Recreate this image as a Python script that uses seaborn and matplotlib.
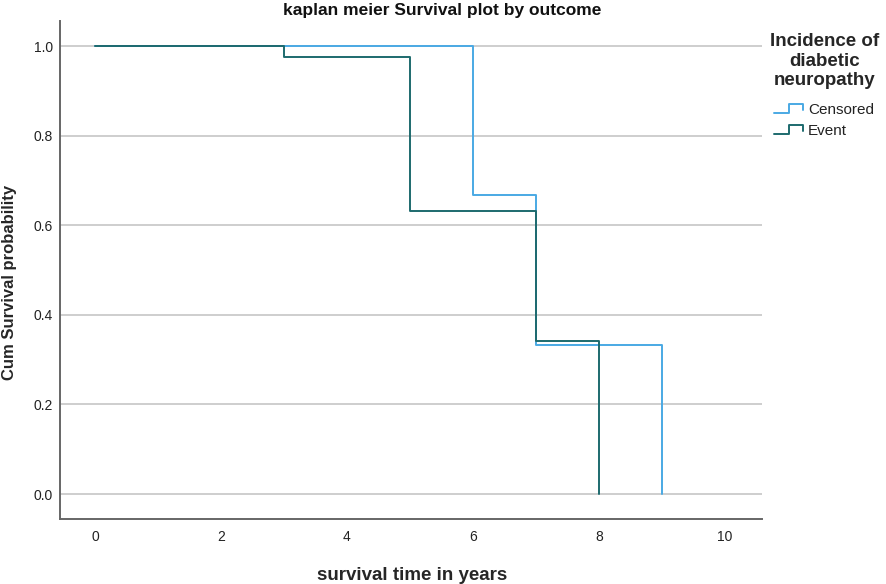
import matplotlib
matplotlib.use("Agg")
import matplotlib.pyplot as plt
from matplotlib.legend_handler import HandlerBase
from matplotlib.lines import Line2D
import pandas as pd
import seaborn as sns

# survival curves (steps-post)
groups = ["Censored", "Event"]
censored_time = [0, 6, 7, 9]
censored_surv = [1.0, 0.667, 0.333, 0.0]
event_time = [0, 3, 5, 7, 8]
event_surv = [1.0, 0.975, 0.632, 0.342, 0.0]
colors = {"Censored": "#4aa9e4", "Event": "#1d6a6e"}

x_ticks = [0, 2, 4, 6, 8, 10]
y_ticks = [0.0, 0.2, 0.4, 0.6, 0.8, 1.0]

df = pd.concat([
    pd.DataFrame({"time": censored_time, "surv": censored_surv, "outcome": "Censored"}),
    pd.DataFrame({"time": event_time, "surv": event_surv, "outcome": "Event"}),
], ignore_index=True)

sns.set_style("white")
plt.rcParams["font.family"] = ["Liberation Sans", "DejaVu Sans"]

fig = plt.figure(figsize=(8.86, 5.84), dpi=100)
ax = fig.add_axes([0.0677, 0.111, 0.7923, 0.853])

for g in ["Censored", "Event"]:
    sns.lineplot(data=df[df["outcome"] == g], x="time", y="surv", color=colors[g],
                 drawstyle="steps-post", estimator=None, sort=False,
                 linewidth=1.4, legend=False, ax=ax, zorder=3)

ax.set_xlim(-0.556, 10.59)
ax.set_ylim(-0.056, 1.056)
ax.set_xticks(x_ticks)
ax.set_xticklabels([str(t) for t in x_ticks])
ax.set_yticks(y_ticks)
ax.set_yticklabels([f"{t:.1f}" for t in y_ticks])
ax.tick_params(length=0, labelsize=10, colors="#222222")
ax.tick_params(axis="y", pad=5)
ax.tick_params(axis="x", pad=8)

ax.yaxis.grid(True, color="#c6c6c6", linewidth=1.2)
ax.xaxis.grid(False)
for s in ["top", "right"]:
    ax.spines[s].set_visible(False)
for s in ["left", "bottom"]:
    ax.spines[s].set_color("#666666")
    ax.spines[s].set_linewidth(1.4)

ax.set_title("kaplan meier Survival plot by outcome", fontsize=12.5, fontweight="bold",
             color="#111111", pad=4, x=0.545)
ax.set_xlabel("survival time in years", fontsize=13.5, fontweight="bold")
ax.set_ylabel("Cum Survival probability", fontsize=12, fontweight="bold")
ax.xaxis.set_label_coords(0.501, -0.095)
ax.yaxis.set_label_coords(-0.061, 0.476)


class StepHandler(HandlerBase):
    def create_artists(self, legend, orig_handle, xdescent, ydescent, width, height, fontsize, trans):
        w, h = width, height
        xs = [0, w * 0.45, w * 0.45, w * 0.9, w * 0.9]
        ys = [h * 0.1, h * 0.1, h * 0.9, h * 0.9, h * 0.35]
        line = Line2D(xs, ys, color=orig_handle.get_color(), linewidth=1.4, transform=trans)
        return [line]


handles = [Line2D([], [], color=colors[g]) for g in groups]
leg = fig.legend(handles, groups, title="Incidence of\ndiabetic\nneuropathy",
                 loc="upper left", bbox_to_anchor=(0.853, 0.967), frameon=False,
                 fontsize=11, title_fontproperties={"weight": "bold", "size": 13.5},
                 handler_map={Line2D: StepHandler()}, handlelength=2.1,
                 handletextpad=0.1, labelspacing=0.45)
leg._legend_box.align = "center"
leg._legend_box.sep = 10
leg.get_title().set_multialignment("center")
for t in leg.get_texts():
    t.set_color("#222222")

fig.savefig("out.png", dpi=100)
